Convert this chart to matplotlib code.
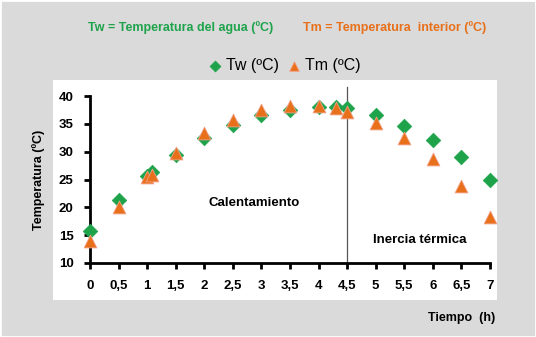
import matplotlib.pyplot as plt
from matplotlib.patches import Rectangle

# datos
tiempo = [0, 0.5, 1, 1.08, 1.5, 2, 2.5, 3, 3.5, 4, 4.3, 4.5, 5, 5.5, 6, 6.5, 7]
tw = [15.8, 21.3, 25.7, 26.4, 29.4, 32.5, 34.8, 36.7, 37.6, 38.0, 38.0, 37.8, 36.7, 34.7, 32.2, 29.0, 25.0]
tm = [13.9, 20.0, 25.4, 25.9, 29.8, 33.3, 35.8, 37.5, 38.3, 38.3, 37.9, 37.2, 35.2, 32.4, 28.7, 23.9, 18.2]
xticks = [0, 0.5, 1, 1.5, 2, 2.5, 3, 3.5, 4, 4.5, 5, 5.5, 6, 6.5, 7]
xlabels = ['0', '0,5', '1', '1,5', '2', '2,5', '3', '3,5', '4', '4,5', '5', '5,5', '6', '6,5', '7']
yticks = [10, 15, 20, 25, 30, 35, 40]

verde = '#1ea34b'
naranja = '#e8701a'
plt.rcParams['font.family'] = ['Liberation Sans', 'DejaVu Sans']

fig = plt.figure(figsize=(5.36, 3.37), dpi=100)
fig.patch.set_facecolor('#dadada')
fig.patches.append(Rectangle((0, 0), 1, 1, transform=fig.transFigure, fill=False,
                             edgecolor='white', linewidth=2, zorder=-2))
fig.patches.append(Rectangle((0.0989, 0.1098), 0.828, 0.653, transform=fig.transFigure,
                             facecolor='white', edgecolor='none', zorder=-1))

ax = fig.add_axes([0.168, 0.2196, 0.746, 0.495])
ax.set_facecolor('none')
ax.scatter(tiempo, tw, marker='D', s=55, color=verde, edgecolors=verde, linewidths=0.5,
           zorder=3, clip_on=False, label='Tw (ºC)')
ax.scatter(tiempo, tm, marker='^', s=85, color=naranja, edgecolors='#f3a08a', linewidths=0.6,
           zorder=4, clip_on=False, label='Tm (ºC)')

ax.plot([4.5, 4.5], [10, 41.6], color='#555555', linewidth=0.9, clip_on=False, zorder=2)

ax.set_xlim(0, 7)
ax.set_ylim(10, 40)
ax.set_xticks(xticks)
ax.set_xticklabels(xlabels)
ax.set_yticks(yticks)
for s in ['top', 'right']:
    ax.spines[s].set_visible(False)
for s in ['left', 'bottom']:
    ax.spines[s].set_linewidth(2)
ax.tick_params(direction='out', length=4, width=2, labelsize=9.5, pad=8)
for lbl in ax.get_xticklabels() + ax.get_yticklabels():
    lbl.set_fontweight('bold')

ax.set_ylabel('Temperatura (ºC)', fontsize=9, fontweight='bold', labelpad=10)
ax.text(2.87, 20.8, 'Calentamiento', fontsize=9.5, fontweight='bold', ha='center', va='center')
ax.text(5.78, 14.1, 'Inercia térmica', fontsize=9.5, fontweight='bold', ha='center', va='center')

fig.text(0.924, 0.057, 'Tiempo  (h)', fontsize=9, fontweight='bold', ha='right', va='center')
fig.text(0.164, 0.917, 'Tw = Temperatura del agua (ºC)', fontsize=9, fontweight='bold',
         color=verde, ha='left', va='center')
fig.text(0.565, 0.917, 'Tm = Temperatura  interior (ºC)', fontsize=9, fontweight='bold',
         color=naranja, ha='left', va='center')

fig.legend(loc='center', bbox_to_anchor=(0.528, 0.805), ncol=2, frameon=False,
           fontsize=11.5, handletextpad=0.05, columnspacing=0.4, markerscale=0.75,
           handlelength=1.2)

fig.savefig('out.png', dpi=100, facecolor=fig.get_facecolor())
